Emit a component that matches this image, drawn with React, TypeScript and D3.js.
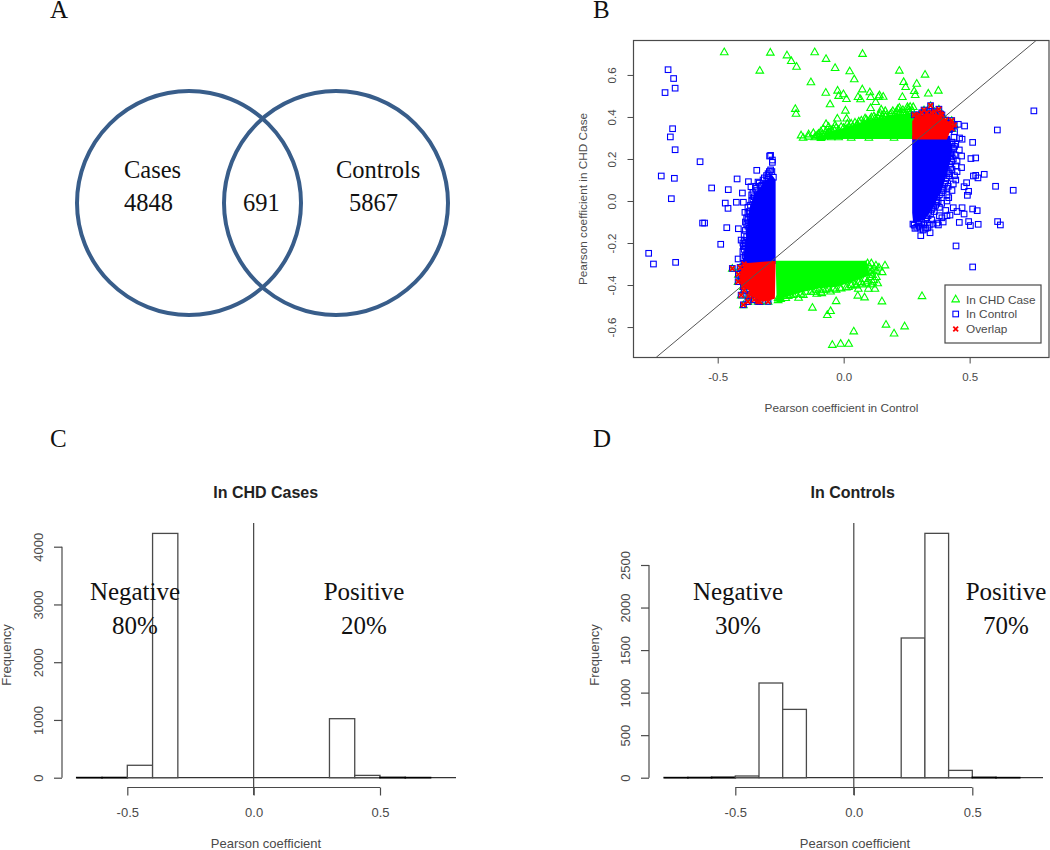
import React, { useEffect, useRef } from 'react';
import * as d3 from 'd3';

type Pt = [number, number];

// panel A
const vennCounts = ['4848', '691', '5867'];
const vennNames = ['Cases', 'Controls'];

// panel B: scatter points (x = control, y = case)
const casePoints: Pt[] = [
  [-.474,.71],[-.291,.708],[-.225,.695],[-.208,.668],[-.187,.641],[-.333,.622],[-.115,.71],[-.07,.678],[-.034,.635],
  [.024,.619],[.042,.581],[.075,.702],[-.13,.567],[-.071,.517],[-.024,.527],[-.02,.502],[-.001,.51],[.011,.487],
  [-.054,.462],[.007,.432],[-.192,.44],[-.189,.417],[-.025,.394],[.012,.394],[-.07,.368],[-.034,.362],[-.169,.314],
  [-.161,.303],[-.139,.319],[-.12,.325],[-.087,.306],[-.067,.31],[-.091,.333],[-.081,.346],[-.048,.338],[.074,.533],
  [.057,.497],[.067,.486],[.104,.519],[.107,.497],[.138,.497],[.142,.505],[.157,.498],[.127,.473],[.107,.444],[.149,.437],
  [.221,.622],[.238,.568],[.246,.544],[.29,.56],[.323,.603],[.28,.525],[.284,.506],[.336,.513],[.376,.527],[.233,.497],
  [.221,.446],[.253,.449],[.276,.449],[.264,.45],
  // top band edge
  [-.14,.308],[-.11,.31],[-.1,.322],[-.06,.33],[-.04,.345],[-.02,.34],[0,.35],[.02,.355],[.03,.37],[.05,.36],[.06,.38],
  [.08,.372],[.09,.39],[.1,.378],[.11,.4],[.13,.388],[.14,.41],[.15,.395],[.16,.415],[.18,.402],[.19,.42],[.2,.408],
  [.21,.428],[.23,.412],[.24,.42],[.25,.408],[.26,.428],[.27,.41],[-.09,.302],[-.05,.305],[-.02,.305],[.03,.303],[.1,.303],[.2,.303],
  [-.07,.335],[-.06,.355],[-.05,.32],[-.03,.35],[-.01,.355],[.01,.345],[.015,.37],[.035,.355],[.045,.375],[.055,.365],
  [.07,.385],[.075,.36],[.085,.395],[.095,.38],[.105,.39],[.12,.405],[.125,.395],[.135,.4],[.145,.42],[.155,.405],
  [.165,.43],[.17,.41],[.185,.415],[.195,.43],[.205,.42],[.215,.44],[.225,.425],[.235,.435],[.245,.415],[.255,.44],
  [.265,.42],[.272,.43],[-.115,.305],[-.105,.315],[-.095,.31],[-.085,.32],[-.075,.315],[-.065,.32],[-.055,.33],
  // lower band edge
  [.164,-.305],[.128,-.305],[.153,-.337],[.058,-.416],[.098,-.416],[.124,-.416],[.056,-.449],[.083,-.457],[.152,-.476],
  [.311,-.451],[-.03,-.475],[-.124,-.506],[-.052,-.522],[-.065,-.541],[.04,-.619],[.168,-.587],[.2,-.629],[.242,-.595],
  [-.045,-.683],[-.012,-.678],[.02,-.678],[-.179,-.459],[-.253,-.456],[-.107,-.44],[-.087,-.437],[-.052,-.429],[-.015,-.411],
  [.019,-.408],[.1,-.31],[.085,-.305],[.112,-.33],[.105,-.36],[.12,-.375],[.09,-.39],[.07,-.385],[.11,-.395],[.05,-.4],
  [.03,-.398],[-.04,-.415],[-.08,-.42],[-.13,-.43],[-.17,-.44],[-.21,-.445],[-.24,-.45],[-.26,-.46],
  [-.26,-.47],[-.25,-.465],[-.23,-.46],[-.22,-.45],[-.2,-.445],[-.19,-.44],[-.16,-.445],[-.15,-.43],[-.12,-.43],[-.11,-.42],
  [-.09,-.43],[-.07,-.42],[-.06,-.415],[-.03,-.42],[-.01,-.415],[.01,-.41],[.03,-.4],[.045,-.395],[.06,-.385],[.075,-.395],
  [.085,-.37],[.095,-.38],[.105,-.34],[.115,-.35],[.12,-.32],[.13,-.33],[.14,-.315],[.095,-.295],[.11,-.295],[.13,-.36],
  [.115,-.385],[.135,-.39],
];
const controlPoints: Pt[] = [
  [-.697,.625],[-.675,.583],[-.709,.516],[-.669,.537],[-.679,.344],[-.688,.305],[-.669,.244],[-.57,.187],[-.724,.119],
  [-.672,.108],[-.684,.011],[-.524,.062],[-.458,.054],[-.402,.038],[-.47,-.01],[-.426,-.006],[-.398,-.006],[-.459,-.035],
  [-.56,-.105],[-.552,-.105],[-.464,-.127],[-.418,-.132],[-.488,-.206],[-.774,-.249],[-.755,-.3],[-.667,-.292],[-.419,-.276],
  [-.423,.105],[-.378,.092],[-.345,.146],[-.368,.068],[-.365,.029],[-.306,.121],[-.294,.214],[-.29,.217],[-.283,.195],
  [-.283,.184],[-.29,.148],[-.279,.113],[-.34,.09],[-.32,.1],[-.35,.06],[-.33,.07],[-.3,.13],[-.392,-.054],[-.407,-.186],[-.398,-.217],
  [-.385,-.08],[-.39,-.1],[-.38,-.03],[-.375,-.13],[-.395,-.16],[-.4,-.24],[-.385,-.25],[-.39,-.2],[-.36,.01],
  [-.35,.07],[-.345,.05],[-.335,.085],[-.325,.075],[-.315,.11],[-.305,.095],[-.3,.11],[-.295,.14],[-.285,.14],[-.31,.08],
  [-.36,.04],[-.355,.02],[-.365,0],[-.37,-.02],[-.375,-.05],[-.38,-.06],[-.38,-.09],[-.37,-.075],[-.385,-.11],[-.39,-.14],
  [-.385,-.17],[-.395,-.19],[-.39,-.21],[-.4,-.2],[-.395,-.23],[-.39,-.26],[-.4,-.27],[-.38,-.12],[-.375,-.15],[-.38,-.2],[-.375,-.24],
  // right column
  [.755,.429],[.61,.338],[.48,.357],[.455,.365],[.47,.294],[.512,.279],[.438,.303],[.459,.243],[.468,.214],[.442,.219],
  [.505,.202],[.524,.205],[.468,.159],[.446,.167],[.558,.127],[.515,.119],[.524,.122],[.533,.11],[.488,.087],[.478,.068],
  [.496,.046],[.491,.027],[.603,.07],[.673,.051],[.435,.081],[.417,.016],[.389,-.011],[.47,-.032],[.512,-.038],[.53,-.046],
  [.478,-.062],[.435,-.032],[.422,-.067],[.459,-.102],[.496,-.098],[.503,-.117],[.534,-.111],[.611,-.098],[.622,-.114],
  [.446,-.214],[.512,-.314],[.376,-.114],[.283,-.13],[.306,-.165],[.343,-.151],[.316,-.138],[.333,-.128],[.37,-.105],
  [.395,-.1],[.38,-.07],[.405,-.045],[.36,-.05],[.35,-.09],[.32,-.11],[.3,-.12],[.33,-.08],[.41,.03],[.42,.12],[.43,.15],
  [.435,.2],[.44,.26],[.425,.225],[.415,.07],[.395,.05],[.37,.02],[.45,-.05],[.44,.12],[.43,.28],
  [.43,.27],[.435,.25],[.43,.23],[.425,.21],[.43,.19],[.42,.175],[.425,.16],[.415,.14],[.42,.13],[.41,.11],[.405,.095],
  [.4,.08],[.41,.06],[.395,.06],[.39,.04],[.38,.03],[.375,0],[.37,-.01],[.365,-.02],[.355,-.03],[.35,-.04],[.345,-.06],
  [.335,-.07],[.325,-.09],[.31,-.1],[.295,-.11],[.28,-.115],[.275,-.11],[.29,-.125],[.305,-.13],[.325,-.13],[.34,-.115],
  [.355,-.11],[.39,-.08],[.41,-.07],[.38,-.03],[.41,0],[.43,.05],[.445,.1],[.45,.14],[.45,.19],[.445,.27],[.46,.3],[.44,.33],[.42,.34],[.425,.36],
];
const overlapPoints: Pt[] = [
  [.345,.454],[.319,.433],[.378,.437],[.294,.402],[.336,.405],[.385,.414],[.429,.383],[.439,.362],
  [.28,.41],[.3,.41],[.31,.42],[.33,.42],[.35,.42],[.36,.425],[.39,.41],[.405,.385],[.415,.37],[.425,.365],[.43,.345],
  [-.442,-.321],[-.411,-.316],[-.418,-.349],[-.419,-.384],[-.398,-.408],[-.407,-.448],[-.377,-.452],[-.398,-.494],[-.38,-.479],[-.332,-.479],
  [-.395,-.3],[-.4,-.33],[-.405,-.37],[-.395,-.425],[-.37,-.445],[-.355,-.47],[-.34,-.478],[-.3,-.478],
];
// outlines of the regions where markers pile up into a solid colour
const caseTopCloud: Pt[] = [[-.1,.295],[.28,.295],[.28,.41],[.25,.415],[.15,.395],[.1,.385],[.03,.358],[-.03,.338],[-.07,.322]];
const caseLowCloud: Pt[] = [[-.27,-.284],[.09,-.284],[.104,-.352],[.037,-.384],[-.028,-.408],[-.094,-.415],[-.16,-.432],[-.266,-.471]];
const controlLeftCloud: Pt[] = [[-.27,-.3],[-.27,.1],[-.285,.125],[-.31,.095],[-.355,.035],[-.375,-.04],[-.39,-.2],[-.398,-.27],[-.41,-.3]];
const controlRightCloud: Pt[] = [[.272,.31],[.422,.31],[.432,.243],[.415,.148],[.39,.052],[.35,-.043],[.32,-.09],[.276,-.105],[.272,-.057]];
const overlapTopCloud: Pt[] = [[.272,.293],[.41,.293],[.43,.355],[.395,.395],[.37,.415],[.33,.41],[.285,.405],[.272,.38]];
const overlapLowCloud: Pt[] = [[-.27,-.285],[-.392,-.296],[-.411,-.344],[-.411,-.392],[-.379,-.424],[-.36,-.457],[-.32,-.48],[-.273,-.465]];
const legendLabels = ['In CHD Case', 'In Control', 'Overlap'];

// panels C, D: histograms in 0.1 wide bins
const casesBinStart = -0.7;
const casesCounts = [2, 3, 215, 4230, 0, 0, 0, 0, 0, 0, 1022, 40, 5, 2];
const controlsBinStart = -0.8;
const controlsCounts = [1, 2, 5, 20, 1113, 803, 0, 0, 0, 0, 1642, 2872, 86, 4, 1];
const xTicks = [-0.5, 0, 0.5];
const casesYTicks = [0, 1000, 2000, 3000, 4000];
const controlsYTicks = [0, 500, 1000, 1500, 2000, 2500];
const scatterYTicks = [-0.6, -0.4, -0.2, 0, 0.2, 0.4, 0.6];

const SANS = '"Liberation Sans", Arial, sans-serif';
const SERIF = '"Liberation Serif", "Times New Roman", serif';
const INK = '#4a4a4a';
const GREEN = '#00ff00';
const BLUE = '#0000ff';
const RED = '#ff0000';

const fmt1 = (d: any) => d3.format('.1f')(d).replace('−', '-');

const App = () => {
  const svgRef = useRef<SVGSVGElement | null>(null);

  useEffect(() => {
    const svg = d3.select(svgRef.current);
    svg.selectAll('*').remove();

    svg.append('defs').append('filter').attr('id', 'soft')
      .attr('x', '-5%').attr('y', '-5%').attr('width', '110%').attr('height', '110%')
      .append('feGaussianBlur').attr('stdDeviation', 0.35);

    const serifText = (x: number, y: number, s: string, size: number, anchor = 'start') =>
      svg.append('text').attr('x', x).attr('y', y).attr('text-anchor', anchor)
        .style('font-family', SERIF).style('font-size', size + 'px').attr('fill', '#111').text(s);

    // panel letters
    serifText(50, 18, 'A', 25);
    serifText(593, 18, 'B', 25);
    serifText(50, 447, 'C', 25);
    serifText(593, 447, 'D', 25);

    // venn
    [189, 336].forEach(cx => {
      svg.append('circle').attr('cx', cx).attr('cy', 203).attr('r', 112)
        .attr('fill', 'none').attr('stroke', '#385d8a').attr('stroke-width', 4);
    });
    serifText(124, 178, vennNames[0], 24.5);
    serifText(124, 211, vennCounts[0], 24.5);
    serifText(243, 211, vennCounts[1], 24.5);
    serifText(336, 178, vennNames[1], 24.5);
    serifText(349, 211, vennCounts[2], 24.5);

    const axisText = (sel: any, size: number) =>
      sel.style('font-family', SANS).style('font-size', size + 'px').attr('fill', INK);

    // scatter
    const sx = d3.scaleLinear().domain([-0.835, 0.819]).range([633.3, 1050]);
    const sy = d3.scaleLinear().domain([-0.744, 0.763]).range([357.3, 40.7]);
    const gS = svg.append('g').attr('filter', 'url(#soft)');

    const cloudLine = d3.line<Pt>().x(d => sx(d[0])).y(d => sy(d[1])).curve(d3.curveLinearClosed);
    const triangle = (d: Pt, r = 3.8) => {
      const px = sx(d[0]), py = sy(d[1]);
      return `M${px},${py - r}L${px + r},${py + r * 0.75}L${px - r},${py + r * 0.75}Z`;
    };
    const drawCase = (g: any, pts: Pt[]) =>
      g.selectAll(null).data(pts).enter().append('path').attr('d', (d: Pt) => triangle(d))
        .attr('fill', 'none').attr('stroke', GREEN).attr('stroke-width', 1.1);
    const drawControl = (g: any, pts: Pt[]) =>
      g.selectAll(null).data(pts).enter().append('rect')
        .attr('x', (d: Pt) => sx(d[0]) - 2.8).attr('y', (d: Pt) => sy(d[1]) - 2.8)
        .attr('width', 5.6).attr('height', 5.6).attr('fill', 'none').attr('stroke', BLUE).attr('stroke-width', 1.1);
    const drawOverlap = (g: any, pts: Pt[]) =>
      g.selectAll(null).data(pts).enter().append('path')
        .attr('d', (d: Pt) => {
          const px = sx(d[0]), py = sy(d[1]), r = 2.4;
          return `M${px - r},${py - r}L${px + r},${py + r}M${px - r},${py + r}L${px + r},${py - r}`;
        })
        .attr('fill', 'none').attr('stroke', RED).attr('stroke-width', 1.8);

    [caseTopCloud, caseLowCloud].forEach(c => {
      gS.append('path').attr('d', cloudLine(c)).attr('fill', GREEN);
    });
    drawCase(gS, casePoints);
    drawCase(gS, overlapPoints);
    [controlLeftCloud, controlRightCloud].forEach(c => {
      gS.append('path').attr('d', cloudLine(c)).attr('fill', BLUE);
    });
    drawControl(gS, controlPoints);
    drawControl(gS, overlapPoints);
    [overlapTopCloud, overlapLowCloud].forEach(c => {
      gS.append('path').attr('d', cloudLine(c)).attr('fill', RED);
    });
    drawOverlap(gS, overlapPoints);

    // y = x reference
    const lo = Math.max(sx.domain()[0], sy.domain()[0]);
    const hi = Math.min(sx.domain()[1], sy.domain()[1]);
    svg.append('line').attr('x1', sx(lo)).attr('y1', sy(lo)).attr('x2', sx(hi)).attr('y2', sy(hi))
      .attr('stroke', '#555').attr('stroke-width', 1);

    svg.append('rect').attr('x', 633.5).attr('y', 40.5).attr('width', 415.5).attr('height', 317)
      .attr('fill', 'none').attr('stroke', INK).attr('stroke-width', 1.2);

    const xAxisS = svg.append('g').attr('transform', 'translate(0,357.5)')
      .call(d3.axisBottom(sx).tickValues(xTicks).tickSize(6).tickPadding(9).tickFormat(fmt1));
    xAxisS.select('.domain').remove();
    xAxisS.selectAll('line').attr('stroke', INK);
    axisText(xAxisS.selectAll('text'), 11.5);
    const yAxisS = svg.append('g').attr('transform', 'translate(633.5,0)')
      .call(d3.axisLeft(sy).tickValues(scatterYTicks).tickSize(6).tickFormat(fmt1));
    yAxisS.select('.domain').remove();
    yAxisS.selectAll('line').attr('stroke', INK);
    axisText(yAxisS.selectAll('text'), 11.5)
      .attr('text-anchor', 'middle').attr('dy', 0).attr('x', 0)
      .attr('transform', 'translate(-17.5,0) rotate(-90)');
    axisText(svg.append('text'), 11.8).attr('x', 841.5).attr('y', 412).attr('text-anchor', 'middle')
      .text('Pearson coefficient in Control');
    axisText(svg.append('text'), 11.8).attr('transform', 'translate(587,199) rotate(-90)').attr('text-anchor', 'middle')
      .text('Pearson coefficient in CHD Case');

    // legend
    svg.append('rect').attr('x', 945).attr('y', 285).attr('width', 96).attr('height', 58)
      .attr('fill', '#fff').attr('stroke', INK).attr('stroke-width', 1.2);
    const gL = svg.append('g').attr('filter', 'url(#soft)');
    const legendX = sx.invert(955.7);
    drawCase(gL, [[legendX, sy.invert(299)]]);
    drawControl(gL, [[legendX, sy.invert(314)]]);
    drawOverlap(gL, [[legendX, sy.invert(329)]]);
    legendLabels.forEach((s, i) => {
      axisText(svg.append('text'), 11.8).attr('x', 966).attr('y', 304 + i * 14.3).text(s);
    });

    // histograms
    const hist = (
      title: string, counts: number[], binStart: number, yTicks: number[],
      xRange: [number, number], yMax: number, yTop: number,
      axisLeftX: number, tickLabelX: number, freqX: number, hlineEnd: number,
      titleX: number, xLabelX: number,
    ) => {
      const x = d3.scaleLinear().domain([-0.5, 0.5]).range(xRange);
      const y = d3.scaleLinear().domain([0, yMax]).range([777.7, yTop]);
      const zero = x(0);

      const bins = counts.map((c, i) => ({ x0: binStart + i * 0.1, x1: binStart + (i + 1) * 0.1, c }));
      svg.append('line').attr('x1', x(binStart)).attr('x2', hlineEnd).attr('y1', y(0)).attr('y2', y(0))
        .attr('stroke', '#333').attr('stroke-width', 1.2);
      svg.selectAll(null).data(bins.filter(b => b.c > 0)).enter().append('rect')
        .attr('x', b => x(b.x0)).attr('width', b => x(b.x1) - x(b.x0))
        .attr('y', b => y(b.c)).attr('height', b => y(0) - y(b.c))
        .attr('fill', '#fff')
        .attr('stroke', b => (y(0) - y(b.c) < 1 ? '#000' : '#4a4a4a'))
        .attr('stroke-width', b => (y(0) - y(b.c) < 1 ? 1.6 : 1.3));
      svg.append('line').attr('x1', zero).attr('x2', zero).attr('y1', 523).attr('y2', 795)
        .attr('stroke', '#444').attr('stroke-width', 1.2);

      const ax = svg.append('g').attr('transform', 'translate(0,787.5)')
        .call(d3.axisBottom(x).tickValues(xTicks).tickSize(8).tickPadding(12).tickFormat(fmt1));
      ax.select('.domain').remove();
      ax.selectAll('line').attr('stroke', INK).attr('stroke-width', 1.2);
      ax.append('line').attr('x1', x(-0.5)).attr('x2', x(0.5)).attr('stroke', INK).attr('stroke-width', 1.2);
      axisText(ax.selectAll('text'), 13);

      const ay = svg.append('g').attr('transform', `translate(${axisLeftX},0)`)
        .call(d3.axisLeft(y).tickValues(yTicks).tickSize(8).tickFormat(d3.format('d')));
      ay.select('.domain').remove();
      ay.selectAll('line').attr('stroke', INK).attr('stroke-width', 1.2);
      ay.append('line').attr('y1', y(0)).attr('y2', y(yTicks[yTicks.length - 1])).attr('stroke', INK).attr('stroke-width', 1.2);
      axisText(ay.selectAll('text'), 13)
        .attr('text-anchor', 'middle').attr('dy', 0).attr('x', 0)
        .attr('transform', `translate(${tickLabelX - axisLeftX},0) rotate(-90)`);

      svg.append('text').attr('x', titleX).attr('y', 497.5).attr('text-anchor', 'middle')
        .style('font-family', SANS).style('font-size', '16px').style('font-weight', 'bold')
        .attr('fill', '#222').text(title);
      axisText(svg.append('text'), 13).attr('x', xLabelX).attr('y', 848).attr('text-anchor', 'middle')
        .text('Pearson coefficient');
      axisText(svg.append('text'), 13).attr('transform', `translate(${freqX},655) rotate(-90)`)
        .attr('text-anchor', 'middle').text('Frequency');
    };
    hist('In CHD Cases', casesCounts, casesBinStart, casesYTicks, [127.3, 380], 4000, 546.7, 62, 43, 11, 456, 265.7, 266);
    hist('In Controls', controlsCounts, controlsBinStart, controlsYTicks, [735.3, 972.3], 2500, 565, 649, 630, 599, 1043, 852.7, 855);

    // annotations
    [
      [135, 'Negative', '80%'], [364, 'Positive', '20%'],
      [738, 'Negative', '30%'], [1006, 'Positive', '70%'],
    ].forEach(([cx, a, b]: any) => {
      serifText(cx, 600, a, 25, 'middle');
      serifText(cx, 634, b, 25, 'middle');
    });
  }, []);

  return (
    <svg ref={svgRef} width={1050} height={850}
      style={{ position: 'absolute', left: 0, top: 0, display: 'block' }}>
    </svg>
  );
};

export default App;
